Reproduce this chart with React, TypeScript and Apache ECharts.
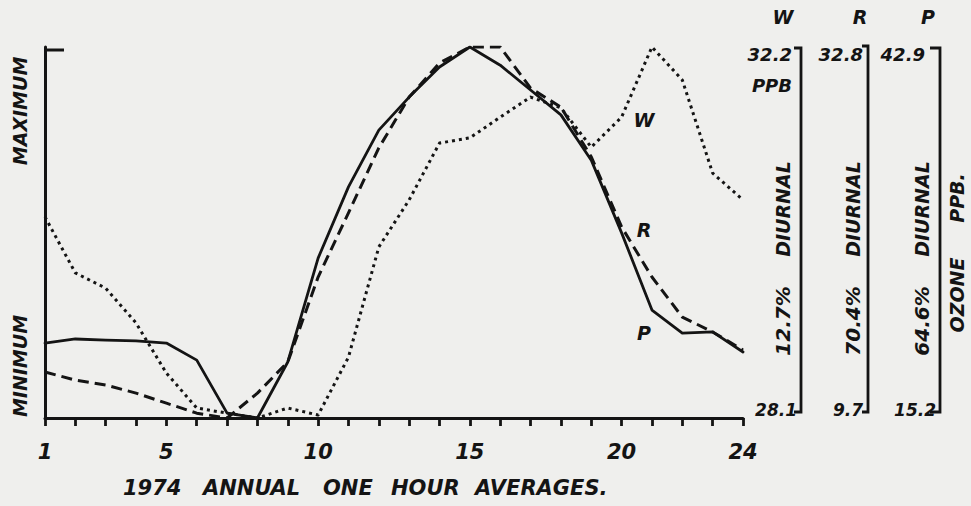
import React, { useEffect, useRef } from "react";
import * as echarts from "echarts";

// Hour of day (1974 annual one-hour averages)
const hours = [1, 2, 3, 4, 5, 6, 7, 8, 9, 10, 11, 12, 13, 14, 15, 16, 17, 18, 19, 20, 21, 22, 23, 24];
// Values as % of each station's diurnal range (0 = minimum, 100 = maximum)
const wValues = [54.2, 39.1, 35.0, 25.6, 12.1, 2.7, 1.3, 0, 2.7, 0.8, 16.4, 46.1, 58.8, 74.1, 75.5, 81.1, 86.5, 83.6, 73.0, 81.1, 100, 91.1, 66.0, 58.8];
const rValues = [12.4, 10.2, 8.9, 6.7, 4.0, 1.3, 0, 6.7, 15.1, 38.0, 55.3, 72.8, 86.5, 95.7, 100, 100, 88.9, 83.8, 70.4, 51.5, 38.0, 27.2, 23.2, 18.3];
const pValues = [20.2, 21.3, 21.0, 20.8, 20.2, 15.6, 1.3, 0, 15.1, 43.1, 62.3, 77.6, 86.5, 94.6, 100, 95.1, 88.4, 81.7, 69.5, 49.9, 29.1, 22.9, 23.2, 17.8];
const xTickLabels = [1, 5, 10, 15, 20, 24];

// Right-hand scale brackets (ozone ppb)
const stations = ["W", "R", "P"];
const stationMax = ["32.2", "32.8", "42.9"];
const stationMin = ["28.1", "9.7", "15.2"];
const stationPct = ["12.7%", "70.4%", "64.6%"];

const titleWords = ["1974", "ANNUAL", "ONE", "HOUR", "AVERAGES."];

const INK = "#141414";
const FONT = "'DejaVu Sans', sans-serif";

function txt(text: string, x: number, y: number, size: number, rot = 0, align = "center") {
  return {
    type: "text",
    x,
    y,
    rotation: rot,
    style: {
      text,
      fill: INK,
      font: `italic bold ${size}px ${FONT}`,
      align,
      verticalAlign: "middle",
    },
  };
}

export default function App() {
  const ref = useRef<HTMLDivElement>(null);
  useEffect(() => {
    const chart = echarts.init(ref.current!, null, { renderer: "svg" });
    const bracketX = [801, 868, 940];
    const bracketTop = [48, 46, 48];
    const hookLen = [7, 6, 10];
    const colTextX = [783, 853, 922];
    const headerX = [783, 860, 928];
    const maxX = [792, 863, 925];
    const minX = [797, 863, 936];
    const titleX = [123, 203, 323, 391, 475];

    const graphic: any[] = [];
    graphic.push({ type: "line", shape: { x1: 45, y1: 50, x2: 64, y2: 50 }, style: { stroke: INK, lineWidth: 3 } });
    for (let i = 0; i < 3; i++) {
      const bx = bracketX[i];
      graphic.push({
        type: "polyline",
        shape: { points: [[bx - hookLen[i], bracketTop[i]], [bx, bracketTop[i]], [bx, 412], [bx - hookLen[i], 412]] },
        style: { stroke: INK, lineWidth: 2.8, fill: null },
      });
      graphic.push(txt(stations[i], headerX[i], 17, 19));
      graphic.push(txt(stationMax[i], maxX[i], 54, 18, 0, "right"));
      graphic.push(txt(stationMin[i], minX[i], 410, 17, 0, "right"));
      graphic.push(txt("DIURNAL", colTextX[i], 209, 19, Math.PI / 2));
      graphic.push(txt(stationPct[i], colTextX[i], 321, 20, Math.PI / 2));
    }
    graphic.push(txt("PPB", 792, 85, 18, 0, "right"));
    graphic.push(txt("PPB.", 957, 198, 19, Math.PI / 2));
    graphic.push(txt("OZONE", 957, 295, 19, Math.PI / 2));
    graphic.push(txt("MAXIMUM", 20, 111, 19, Math.PI / 2));
    graphic.push(txt("MINIMUM", 20, 366, 19, Math.PI / 2));
    for (let i = 0; i < titleWords.length; i++) {
      graphic.push(txt(titleWords[i], titleX[i], 488, 21, 0, "left"));
    }
    graphic.push(txt("W", 644, 120, 19));
    graphic.push(txt("R", 644, 230, 19));
    graphic.push(txt("P", 644, 333, 19));

    const mk = (name: string, vals: number[], type: any, width: number, cap: string) => ({
      name,
      type: "line",
      data: hours.map((h, i) => [h, vals[i]]),
      showSymbol: false,
      symbol: "none",
      lineStyle: { color: INK, width, type, cap, join: "round" },
      z: 3,
    });

    chart.setOption({
      animation: false,
      backgroundColor: "#efefed",
      grid: { left: 45, right: 228, top: 47, bottom: 88 },
      xAxis: {
        type: "value",
        min: 1,
        max: 24,
        interval: 1,
        axisLine: { show: true, lineStyle: { color: INK, width: 3 } },
        axisTick: { show: true, length: 8, lineStyle: { color: INK, width: 2.8 } },
        splitLine: { show: false },
        axisLabel: {
          margin: 23,
          color: INK,
          fontFamily: FONT,
          fontStyle: "italic",
          fontWeight: "bold",
          fontSize: 21,
          showMinLabel: true,
          showMaxLabel: true,
          formatter: (v: number) => (xTickLabels.includes(v) ? String(v) : ""),
        },
      },
      yAxis: {
        type: "value",
        min: 0,
        max: 100,
        axisLine: { show: true, lineStyle: { color: INK, width: 3 } },
        axisTick: { show: false },
        axisLabel: { show: false },
        splitLine: { show: false },
      },
      series: [
        mk("W", wValues, [3, 4], 3, "butt"),
        mk("R", rValues, [11, 6], 3, "butt"),
        mk("P", pValues, "solid", 2.8, "round"),
      ],
      graphic,
    });
    return () => chart.dispose();
  }, []);
  return (
    <div
      ref={ref}
      style={{ position: "absolute", left: 0, top: 0, width: 971, height: 506 }}
    />
  );
}
